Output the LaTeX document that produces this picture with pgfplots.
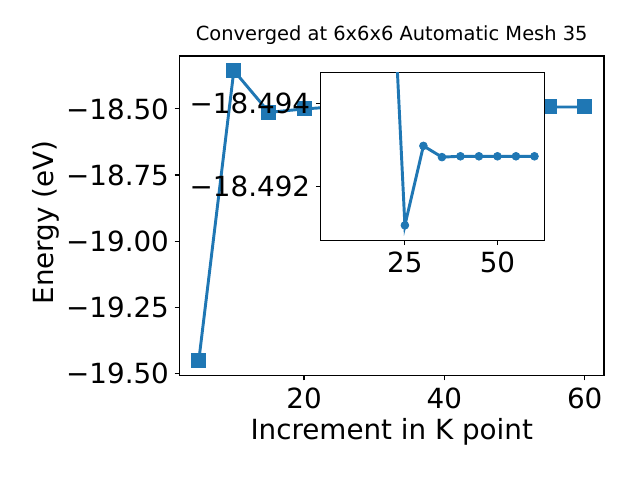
\documentclass[border=0pt]{standalone}
\usepackage{fontspec}
\setmainfont{DejaVu Sans}
\usepackage{pgfplots}
\pgfplotsset{compat=1.18}
\definecolor{mplblue}{HTML}{1F77B4}
\newcommand{\lbl}{\fontsize{20.83}{25}\selectfont}

\pgfplotsset{
    mplstyle/.style={
	scale only axis,
	anchor=south west,
	tick align=outside,
	tick pos=left,
	major tick length=3.65pt,
	axis line style={line width=0.83pt},
	every tick/.style={black, line width=0.83pt},
	ticklabel style={font=\lbl},
	yticklabel style={anchor=east, inner sep=0pt, xshift=-4.05pt},
	xticklabel style={anchor=north, inner sep=0pt, yshift=-5.2pt},
    },
}

\begin{document}
\begin{tikzpicture}
    \useasboundingbox (0,0) rectangle (480pt,360pt);
    % main axis
    \begin{axis}[
	mplstyle,
	at={(134.6pt,78.4pt)},
	width=318.4pt, height=239.6pt,
	xmin=2.25, xmax=62.75,
	ymin=-19.508, ymax=-18.300,
	xtick={20,40,60},
	xticklabels={20,40,60},
	ytick={-19.5,-19.25,-19,-18.75,-18.5},
	yticklabels={−19.50,−19.25,−19.00,−18.75,−18.50},
	title={Converged at 6x6x6 Automatic Mesh 35},
	title style={font=\fontsize{14.58}{17}\selectfont, at={(axis description cs:0.5,1)}, anchor=base, yshift=6pt},
	xlabel={Increment in K point},
	ylabel={Energy (eV)},
	xlabel style={font=\lbl, at={(axis description cs:0.5,-0.2)}, anchor=base},
	ylabel style={font=\lbl, at={(axis description cs:-0.296,0.479)}, anchor=base, rotate=0},
    ]
    \addplot[
	color=mplblue, line width=2.2pt,
	mark=square*, mark size=5.25pt,
	mark options={solid, line width=0.75pt},
	]
	coordinates {
	(5,-19.453) (10,-18.355) (15,-18.513) (20,-18.5002) (25,-18.49107) (30,-18.49298)
	(35,-18.49271) (40,-18.49273) (45,-18.49273) (50,-18.49273) (55,-18.49273) (60,-18.49273)
	};
    \end{axis}

    % inset
    \begin{axis}[
	mplstyle,
	at={(240.5pt,179.8pt)},
	width=168pt, height=126pt,
	axis background/.style={fill=white},
	xmin=2.25, xmax=62.75,
	ymin=-18.49475, ymax=-18.49071,
	y dir=reverse,
	xtick={25,50},
	xticklabels={25,50},
	ytick={-18.494,-18.492},
	yticklabels={−18.494,−18.492},
	scaled y ticks=false,
    ]
    \addplot[
	color=mplblue, line width=2.2pt,
	mark=*, mark size=2.9pt,
	mark options={solid, line width=0.6pt},
	]
	coordinates {
	(15,-18.513) (20,-18.5002) (25,-18.49107) (30,-18.49298) (35,-18.49271)
	(40,-18.49273) (45,-18.49273) (50,-18.49273) (55,-18.49273) (60,-18.49273)
	};
    \end{axis}
\end{tikzpicture}
\end{document}
